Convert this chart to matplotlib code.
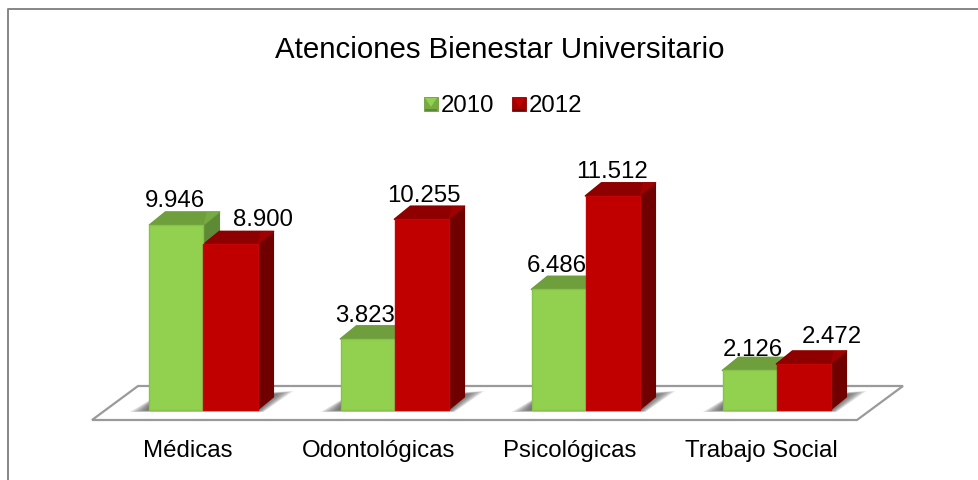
import numpy as np
import matplotlib
matplotlib.use("Agg")
import matplotlib.pyplot as plt
from matplotlib.patches import Polygon, Rectangle

plt.rcParams["font.family"] = ["Liberation Sans", "DejaVu Sans"]

categories = ["Médicas", "Odontológicas", "Psicológicas", "Trabajo Social"]
years = ["2010", "2012"]
values_2010 = [9946, 3823, 6486, 2126]
values_2012 = [8900, 10255, 11512, 2472]
labels_2010 = ["9.946", "3.823", "6.486", "2.126"]
labels_2012 = ["8.900", "10.255", "11.512", "2.472"]

# labels were moved by hand in the original, pixels off the bar centre / bar top
nudge_x_2010 = [-2, -2, -2, 3]
nudge_x_2012 = [32, 2, 0, 28]
lift_2010 = [25, 23.5, 24.5, 21.5]
lift_2012 = [25, 24.5, 24.5, 28.5]

W, H = 979, 481
PX_X = 191.0           # pixels per category
PX_Y = 0.0186          # pixels per unit
X0, Y0 = 203.5, 411.0  # pixel position of first category / zero line

# shades: front, edge, top, top highlight, side
GREEN = ("#92d050", "#87c24a", "#6f9e3d", "#76aa42", "#5f8a35")
RED = ("#c00000", "#c40505", "#8e0000", "#a00000", "#700000")

BAR_W = 54 / PX_X
DX = 16 / PX_X
DY = 13 / PX_Y


def fx(p):
    return (p - X0) / PX_X


def fy(p):
    return (Y0 - p) / PX_Y


def draw_bar(ax, x, val, shades):
    front, edge, top, top_hi, side = shades
    ax.add_patch(Polygon([(x + BAR_W, 0), (x + BAR_W + DX, DY), (x + BAR_W + DX, val + DY), (x + BAR_W, val)],
                         fc=side, ec=side, lw=0.8, joinstyle="round", zorder=4))
    ax.add_patch(Polygon([(x, val), (x + DX, val + DY), (x + BAR_W + DX, val + DY), (x + BAR_W, val)],
                         fc=top, ec=top, lw=1.2, joinstyle="round", zorder=4))
    ax.add_patch(Polygon([(x + BAR_W, val), (x + BAR_W + DX, val + DY), (x + BAR_W + DX * 0.2, val + DY)],
                         fc=top_hi, ec="none", zorder=4))
    ax.add_patch(Rectangle((x, 0), BAR_W, val, fc=front, ec=edge, lw=1.0, joinstyle="round", zorder=5))


fig = plt.figure(figsize=(W / 100, H / 100), dpi=100)
ax = fig.add_axes([0, 0, 1, 1])
ax.set_xlim(-X0 / PX_X, (W - X0) / PX_X)
ax.set_ylim((Y0 - H) / PX_Y, Y0 / PX_Y)
ax.axis("off")

# chart frame, only left and top are inside the crop
ax.plot([fx(8), fx(8), fx(W + 5)], [fy(H + 5), fy(10), fy(10)], color="#868686", lw=1.4, zorder=1)

# floor
ax.add_patch(Polygon([(fx(92), fy(421)), (fx(857), fy(421)), (fx(903), fy(387)), (fx(138), fy(387))],
                     fc="white", ec="#9a9a9a", lw=1.6, zorder=2))

# soft shadow on the floor, stacked see-through layers
for i in range(len(categories)):
    cx = X0 + i * PX_X
    for k in range(12):
        g = k * 1.6
        ax.add_patch(Polygon([(fx(cx - 74 + g * 1.1), fy(413 - g * 0.1)),
                              (fx(cx + 60 - g * 0.3), fy(413 - g * 0.1)),
                              (fx(cx + 90 - g * 1.1), fy(392 + g * 0.2)),
                              (fx(cx - 52), fy(400 + g * 0.2))],
                             fc="#404040", ec="none", alpha=0.1, zorder=3))

for i in range(len(categories)):
    draw_bar(ax, i - BAR_W, values_2010[i], GREEN)
    draw_bar(ax, i, values_2012[i], RED)
    ax.text(i - BAR_W / 2 + nudge_x_2010[i] / PX_X, values_2010[i] + lift_2010[i] / PX_Y, labels_2010[i],
            ha="center", va="center", fontsize=17.3, color="black", zorder=6)
    ax.text(i + BAR_W / 2 + nudge_x_2012[i] / PX_X, values_2012[i] + lift_2012[i] / PX_Y, labels_2012[i],
            ha="center", va="center", fontsize=17.3, color="black", zorder=6)
    ax.text(i - 15.5 / PX_X, fy(451.5), categories[i], ha="center", va="center", fontsize=17.3, color="black")

ax.text(fx(499.5), fy(50.5), "Atenciones Bienestar Universitario", ha="center", va="center",
        fontsize=21.2, color="black")

# legend
for x_px, year, shades, tx in [(424, years[0], GREEN, 441), (512, years[1], RED, 529)]:
    front, edge, top, top_hi, side = shades
    ax.add_patch(Rectangle((fx(x_px), fy(112)), 14 / PX_X, 14 / PX_Y, fc=top_hi, ec=top, lw=0.6, zorder=5))
    ax.add_patch(Polygon([(fx(x_px + 1), fy(99)), (fx(x_px + 13), fy(99)), (fx(x_px + 7), fy(108))],
                         fc=front, ec="none", zorder=6))
    ax.add_patch(Rectangle((fx(x_px + 1), fy(112)), 12 / PX_X, 2 / PX_Y, fc=side, ec="none", zorder=6))
    ax.text(fx(tx), fy(106.5), year, ha="left", va="center", fontsize=17.3, color="black")

fig.savefig("out.png", dpi=100, facecolor="white")
